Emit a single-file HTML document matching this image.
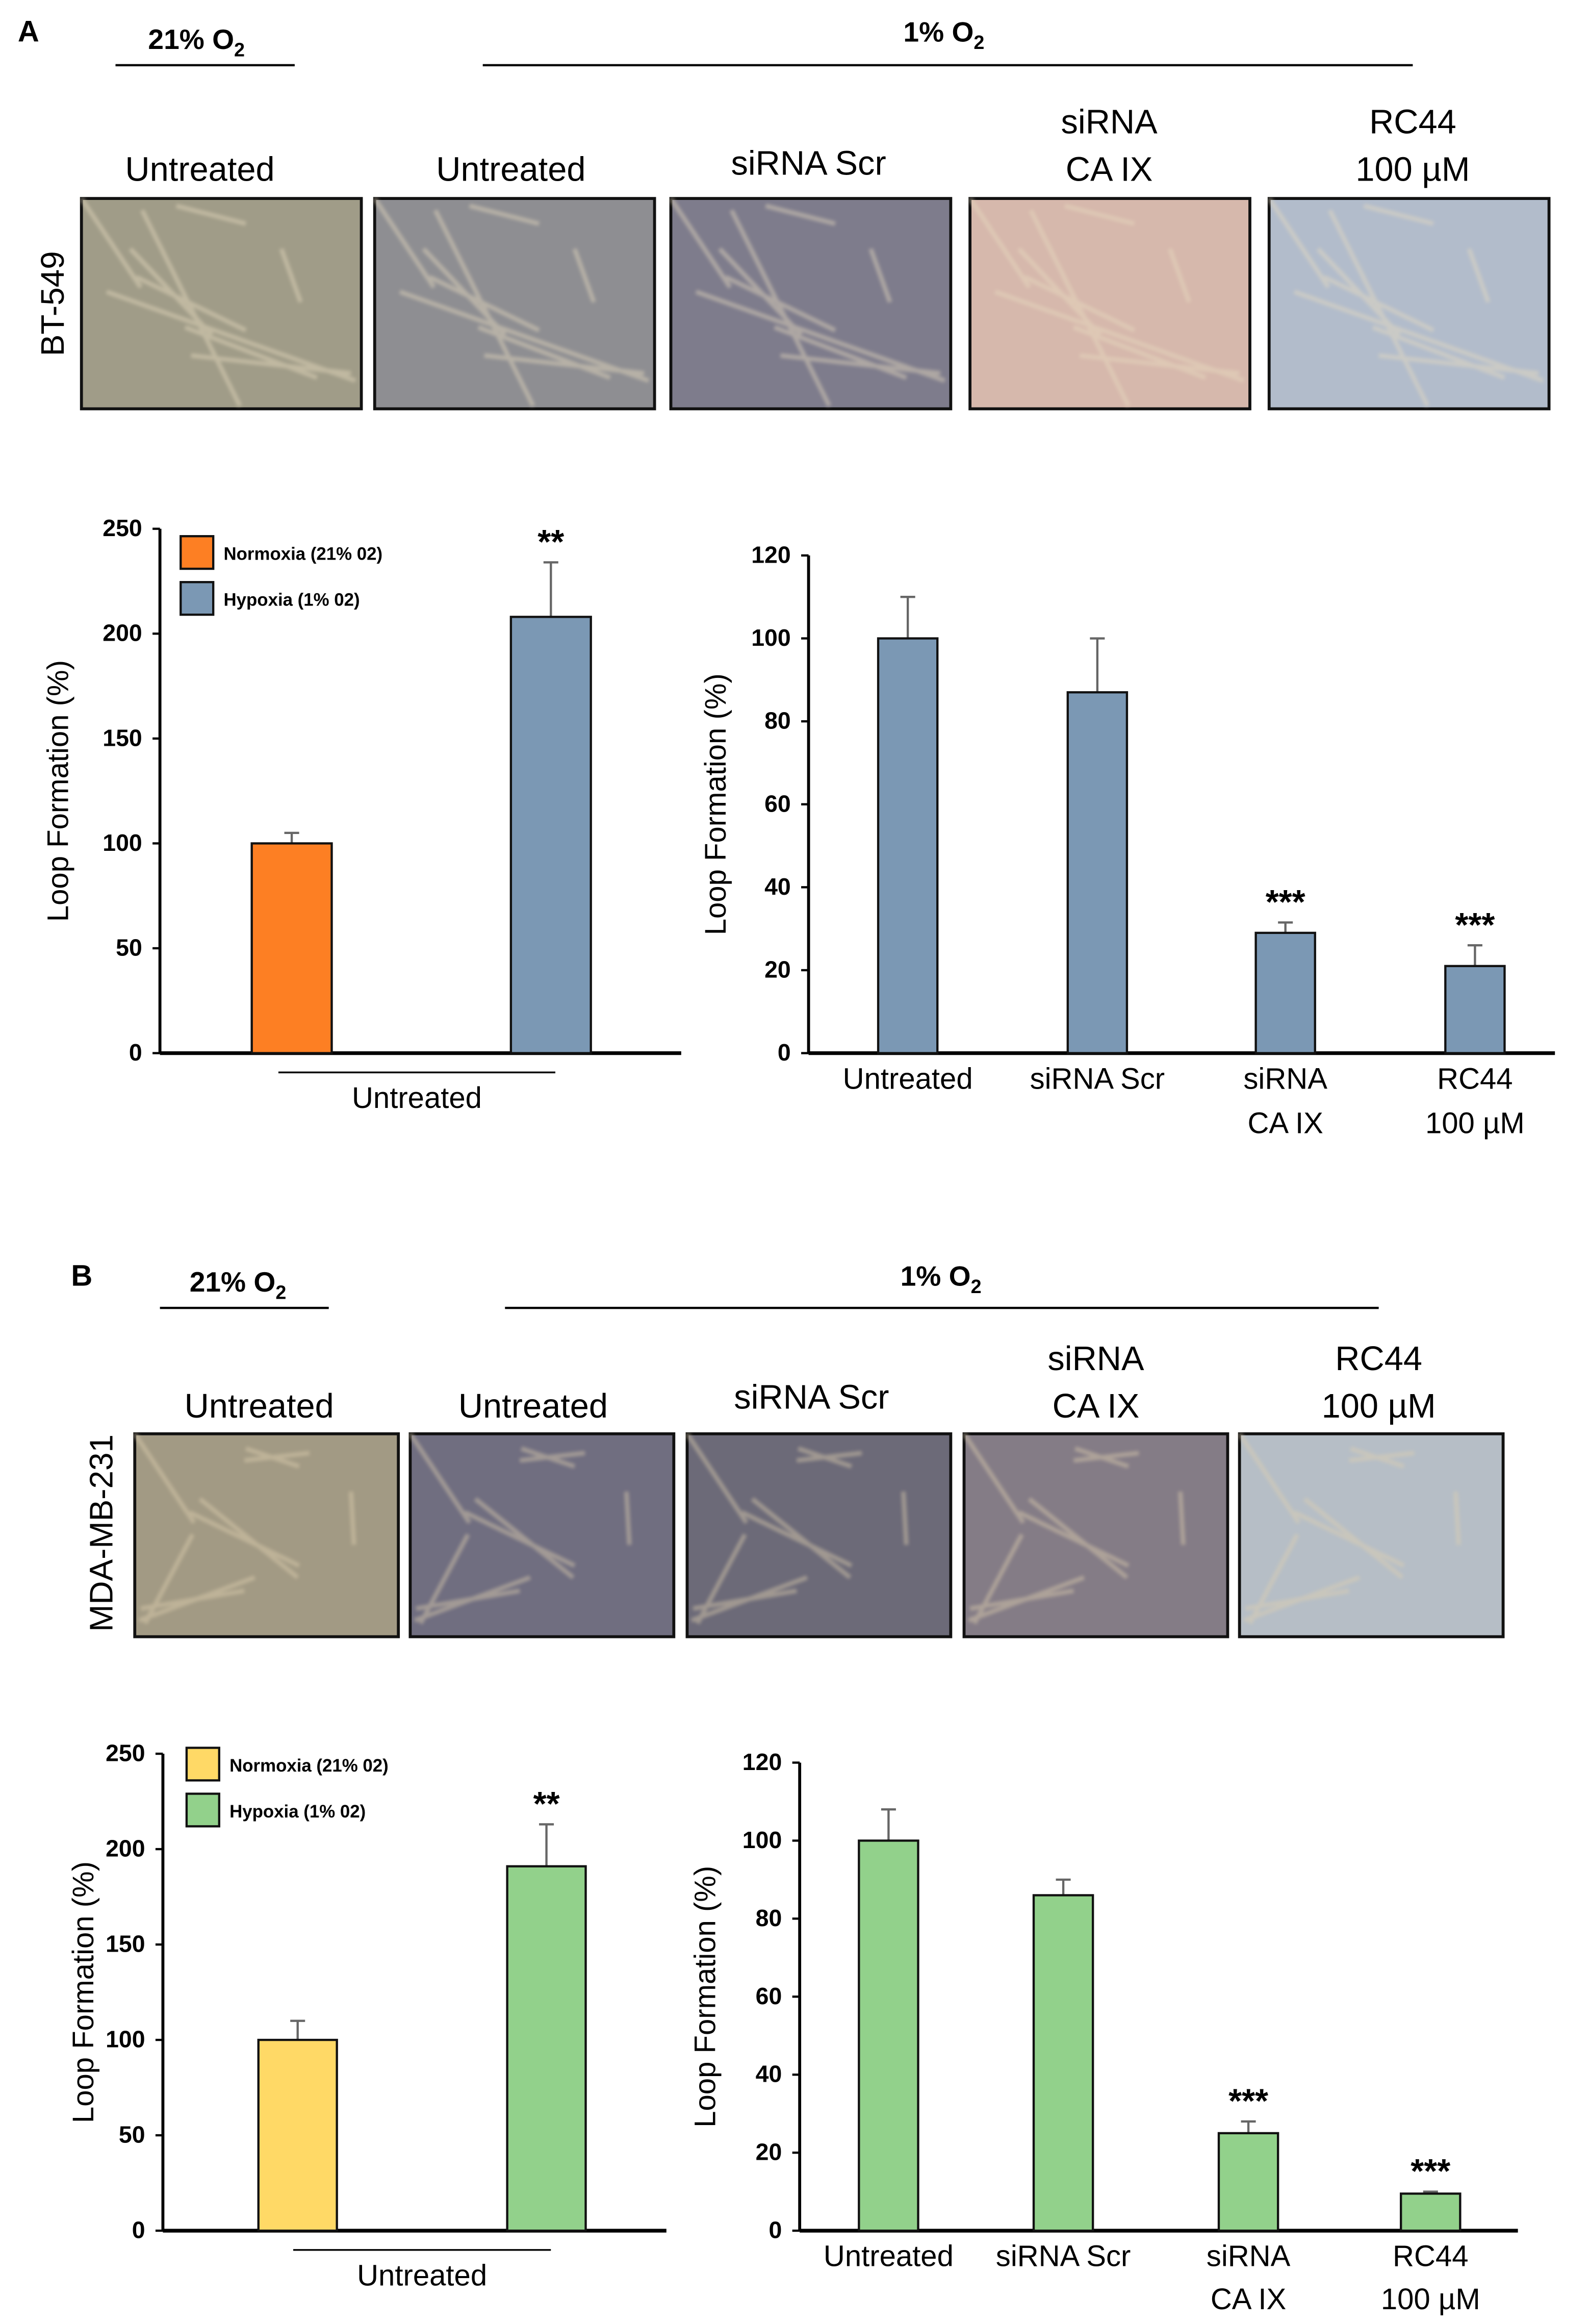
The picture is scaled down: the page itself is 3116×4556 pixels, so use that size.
<!DOCTYPE html>
<html><head><meta charset="utf-8"><style>
html,body{margin:0;padding:0;background:#fff}
svg{display:block}
text{font-family:"Liberation Sans",sans-serif}
</style></head><body>
<svg id="fig" xmlns="http://www.w3.org/2000/svg" width="3116" height="4556" viewBox="0 0 1073 1569" preserveAspectRatio="none">
<defs>
<filter id="blur1"><feGaussianBlur stdDeviation="1.2"/></filter>
</defs>
<g id="panelA">
<text x="12" y="28" font-size="20" font-weight="bold">A</text>
<text x="100" y="33" font-size="19" font-weight="bold">21% O<tspan font-size="13" dy="5">2</tspan></text>
<line x1="78" y1="44" x2="199" y2="44" stroke="#000" stroke-width="1.5"/>
<text x="610" y="28" font-size="19" font-weight="bold">1% O<tspan font-size="13" dy="5">2</tspan></text>
<line x1="326" y1="44" x2="954" y2="44" stroke="#000" stroke-width="1.5"/>
<text x="135" y="122" font-size="23" text-anchor="middle">Untreated</text>
<text x="345" y="122" font-size="23" text-anchor="middle">Untreated</text>
<text x="546" y="118" font-size="23" text-anchor="middle">siRNA Scr</text>
<text x="749" y="90" font-size="23" text-anchor="middle">siRNA</text>
<text x="749" y="122" font-size="23" text-anchor="middle">CA IX</text>
<text x="954" y="90" font-size="23" text-anchor="middle">RC44</text>
<text x="954" y="122" font-size="23" text-anchor="middle">100 µM</text>
<text transform="translate(43,205) rotate(-90)" font-size="22" text-anchor="middle">BT-549</text>
</g>
<g id="panelB">
<text x="48" y="868" font-size="20" font-weight="bold">B</text>
<text x="128" y="872" font-size="19" font-weight="bold">21% O<tspan font-size="13" dy="5">2</tspan></text>
<line x1="108" y1="883" x2="222" y2="883" stroke="#000" stroke-width="1.5"/>
<text x="608" y="868" font-size="19" font-weight="bold">1% O<tspan font-size="13" dy="5">2</tspan></text>
<line x1="341" y1="883" x2="931" y2="883" stroke="#000" stroke-width="1.5"/>
<text x="175" y="957" font-size="23" text-anchor="middle">Untreated</text>
<text x="360" y="957" font-size="23" text-anchor="middle">Untreated</text>
<text x="548" y="951" font-size="23" text-anchor="middle">siRNA Scr</text>
<text x="740" y="925" font-size="23" text-anchor="middle">siRNA</text>
<text x="740" y="957" font-size="23" text-anchor="middle">CA IX</text>
<text x="931" y="925" font-size="23" text-anchor="middle">RC44</text>
<text x="931" y="957" font-size="23" text-anchor="middle">100 µM</text>
<text transform="translate(76,1035) rotate(-90)" font-size="22" text-anchor="middle">MDA-MB-231</text>
</g>
<g id="photos"></g>
<g id="charts"></g>
</svg>
<script>
var NS="http://www.w3.org/2000/svg";
function mk(tag,attrs,parent){var e=document.createElementNS(NS,tag);for(var k in attrs)e.setAttribute(k,attrs[k]);parent.appendChild(e);return e;}

var photoX=[55,253,453,655,857];
var photoColsA=["#a09c88","#8e8e92","#7e7c8c","#d6b8ac","#b2bccb"];
var photoX2=[91,277,464,651,837];
var photoColsB=["#a29a84","#706e80","#6c6a78","#847c86","#b6bec6"];
var pg=document.getElementById('photos');
function photo(x,y,w,h,col,light){
  var g=mk('g',{},pg);
  
  
  mk('rect',{x:x,y:y,width:w,height:h,fill:col,stroke:'#111','stroke-width':2},g);
  var s='';
  for(var i=0;i<9;i++){var a=x+((i*37)%w),b=y+((i*53)%h);s+='M'+a+' '+b+' L'+(x+((i*71+40)%w))+' '+(y+((i*29+60)%h))+' ';}
  mk('path',{d:s,stroke:light,'stroke-width':3,fill:'none',opacity:0.45,filter:'url(#blur1)'},g);
}
photoX.forEach(function(x,i){photo(x,134,189,142,photoColsA[i],'#e8dcc0');});
photoX2.forEach(function(x,i){photo(x,968,178,137,photoColsB[i],'#e0d0b0');});

var catsA1=["Normoxia (21% 02)","Hypoxia (1% 02)"];
var valsA1=[100,208];
var errA1=[5,26];
var sigA1=["","**"];
var catsA2=["Untreated","siRNA Scr","siRNA|CA IX","RC44|100 µM"];
var valsA2=[100,87,29,21];
var errA2=[10,13,2.5,5];
var sigA2=["","","***","***"];
var valsB1=[100,191];
var errB1=[10,22];
var sigB1=["","**"];
var valsB2=[100,86,25,9.5];
var errB2=[8,4,3,0.5];
var sigB2=["","","***","***"];
var ticks250=[0,50,100,150,200,250];
var ticks120=[0,20,40,60,80,100,120];

var cg=document.getElementById('charts');
function chart(o){
  var g=mk('g',{},cg);
  
  
  function y(v){return o.y0-(v/o.max)*(o.y0-o.y1);}
  o.ticks.forEach(function(t){
    mk('line',{x1:o.x0-5,x2:o.x0,y1:y(t),y2:y(t),stroke:'#000','stroke-width':1.5},g);
    var tx=mk('text',{x:o.x0-12,y:y(t)+5,'font-size':16,'font-weight':'bold','text-anchor':'end'},g);
    tx.textContent=t;
    
    
  });
  mk('line',{x1:o.x0,x2:o.x0,y1:o.y0,y2:o.y1,stroke:'#000','stroke-width':2},g);
  mk('line',{x1:o.x0,x2:o.xend,y1:o.y0,y2:o.y0,stroke:'#000','stroke-width':2.5},g);
  var yt=mk('text',{transform:'translate('+o.ytx+','+((o.y0+o.y1)/2)+') rotate(-90)','font-size':20,'text-anchor':'middle'},g);
  yt.textContent='Loop Formation (%)';
  
  
  o.vals.forEach(function(v,i){
    var cx=o.xs[i],top=y(v),et=y(v+o.err[i]);
    mk('line',{x1:cx,x2:cx,y1:top,y2:et,stroke:'#666','stroke-width':1.5},g);
    mk('line',{x1:cx-5,x2:cx+5,y1:et,y2:et,stroke:'#666','stroke-width':1.5},g);
    var r=mk('rect',{x:cx-o.bw/2,y:top,width:o.bw,height:o.y0-top,fill:o.cols[i],stroke:'#111','stroke-width':1.5},g);
    
    
    if(o.sig[i]){var s=mk('text',{x:cx,y:et-6,'font-size':23,'font-weight':'bold','text-anchor':'middle'},g);s.textContent=o.sig[i];
      
      }
    if(o.labels){var parts=o.labels[i].split('|');parts.forEach(function(p,j){
      var t=mk('text',{x:cx,y:o.y0+24+j*o.lh,'font-size':20,'text-anchor':'middle'},g);t.textContent=p;
      
      });}
  });
  if(o.legend){o.legend.forEach(function(l,i){
    var ly=o.legY+i*31;
    var lr=mk('rect',{x:o.legX,y:ly,width:22,height:22,fill:o.cols[i],stroke:'#111','stroke-width':1.5},g);
    
    
    var lt=mk('text',{x:o.legX+29,y:ly+16,'font-size':12,'font-weight':'bold'},g);lt.textContent=l;
    
    
  });
  mk('line',{x1:o.ux1,x2:o.ux2,y1:o.y0+13,y2:o.y0+13,stroke:'#000','stroke-width':1.2},g);
  var ut=mk('text',{x:(o.ux1+o.ux2)/2,y:o.y0+37,'font-size':20,'text-anchor':'middle'},g);ut.textContent='Untreated';
  
  }
}
chart({name:'chart-a-normoxia-hypoxia',x0:108,xend:460,y0:711,y1:357,max:250,ticks:ticks250,vals:valsA1,err:errA1,sig:sigA1,xs:[197,372],bw:54,cols:['#fd7f23','#7b98b4'],ytx:46,legend:catsA1,legX:122,legY:362,ux1:188,ux2:375});
chart({name:'chart-a-treatments',x0:546,xend:1050,y0:711,y1:375,max:120,ticks:ticks120,vals:valsA2,err:errA2,sig:sigA2,xs:[613,741,868,996],bw:40,cols:['#7b98b4','#7b98b4','#7b98b4','#7b98b4'],ytx:490,labels:catsA2,lh:30});
chart({name:'chart-b-normoxia-hypoxia',x0:110,xend:450,y0:1506,y1:1184,max:250,ticks:ticks250,vals:valsB1,err:errB1,sig:sigB1,xs:[201,369],bw:53,cols:['#ffd966','#92d18b'],ytx:63,legend:catsA1,legX:126,legY:1180,ux1:198,ux2:372});
chart({name:'chart-b-treatments',x0:540,xend:1025,y0:1506,y1:1190,max:120,ticks:ticks120,vals:valsB2,err:errB2,sig:sigB2,xs:[600,718,843,966],bw:40,cols:['#92d18b','#92d18b','#92d18b','#92d18b'],ytx:483,labels:catsA2,lh:29});
</script>
</body></html>
